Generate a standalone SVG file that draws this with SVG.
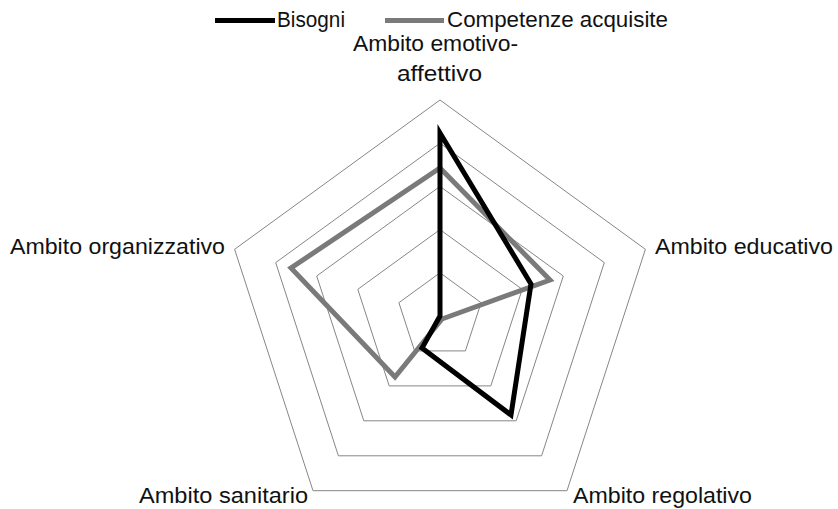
<svg xmlns="http://www.w3.org/2000/svg" width="838" height="509" viewBox="0 0 838 509">
<style>
.grid{fill:none;stroke:#868686;stroke-width:1}
.lbl{font-family:"Liberation Sans",Arial,sans-serif;font-size:22px;fill:#111}
.s1{fill:none;stroke:#000;stroke-width:5;stroke-linejoin:miter}
.s2{fill:none;stroke:#7a7a7a;stroke-width:5;stroke-linejoin:miter}
</style>
<rect width="838" height="509" fill="#fff"/>
<g id="grid">
<polygon class="grid" points="440,272.8 481.1,302.7 465.4,350.9 414.6,350.9 398.9,302.7"/>
<polygon class="grid" points="440,229.6 522.2,289.3 490.8,385.9 389.2,385.9 357.8,289.3"/>
<polygon class="grid" points="440,186.4 563.3,276 516.2,420.8 363.8,420.8 316.7,276"/>
<polygon class="grid" points="440,143.2 604.3,262.6 541.6,455.8 338.4,455.8 275.7,262.6"/>
<polygon class="grid" points="440,100 645.4,249.3 567,490.7 313,490.7 234.6,249.3"/>
</g>
<g id="connectors">
<polygon id="series-competenze" class="s2" points="440,168 550,280 442,319 395,377 291,268"/>
<polygon id="series-bisogni" class="s1" points="440,133 531,284 511,415 422,348 440,316"/>
</g>
<g id="axis-labels">
<g id="label-emotivo"><text class="lbl" x="353" y="51" textLength="165" lengthAdjust="spacingAndGlyphs">Ambito emotivo-</text><text class="lbl" x="397" y="81" textLength="85" lengthAdjust="spacingAndGlyphs">affettivo</text></g>
<g id="label-educativo"><text class="lbl" x="655" y="254" textLength="178" lengthAdjust="spacingAndGlyphs">Ambito educativo</text></g>
<g id="label-regolativo"><text class="lbl" x="573" y="503" textLength="179" lengthAdjust="spacingAndGlyphs">Ambito regolativo</text></g>
<g id="label-sanitario"><text class="lbl" x="139" y="503" textLength="169" lengthAdjust="spacingAndGlyphs">Ambito sanitario</text></g>
<g id="label-organizzativo"><text class="lbl" x="10" y="254" textLength="215" lengthAdjust="spacingAndGlyphs">Ambito organizzativo</text></g>
</g>
<g id="legend">
<line x1="215" y1="20.5" x2="275" y2="20.5" stroke="#000" stroke-width="5"/>
<text class="lbl" x="277" y="27" textLength="68" lengthAdjust="spacingAndGlyphs">Bisogni</text>
<line x1="385" y1="20.5" x2="444" y2="20.5" stroke="#7a7a7a" stroke-width="5"/>
<text class="lbl" x="447" y="27" textLength="221" lengthAdjust="spacingAndGlyphs">Competenze acquisite</text>
</g>
</svg>
